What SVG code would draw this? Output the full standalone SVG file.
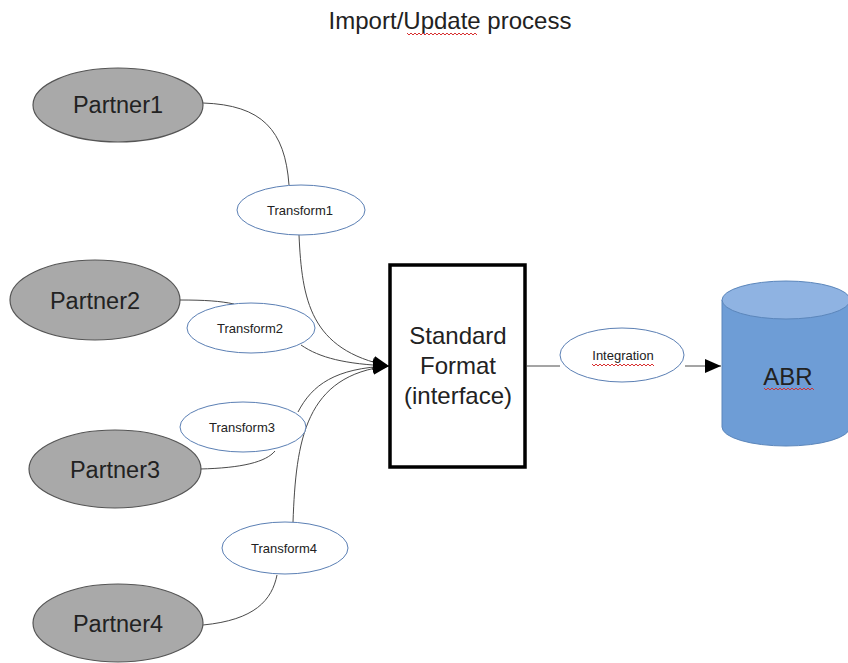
<svg xmlns="http://www.w3.org/2000/svg" width="848" height="663" viewBox="0 0 848 663">
  <style>
    text { font-family: "Liberation Sans", Arial, sans-serif; fill: #222; }
    .partner ellipse { fill: #a9a9a9; stroke: #555; stroke-width: 1.2; }
    .partner text { font-size: 23.5px; text-anchor: middle; }
    .xf ellipse { fill: #fff; stroke: #5b7fb4; stroke-width: 1; }
    .xf text { font-size: 13px; text-anchor: middle; }
    .conn path { fill: none; stroke: #4a4a4a; stroke-width: 1; }
    .big { font-size: 24px; text-anchor: middle; }
    .squiggle { fill: none; stroke: #d83030; stroke-width: 1; }
  </style>
  <defs>
    <marker id="arrow" viewBox="0 0 16 14" refX="16" refY="7" markerWidth="16" markerHeight="14" markerUnits="userSpaceOnUse" orient="auto">
      <path d="M0,0 L16,7 L0,14 Z" fill="#000"/>
    </marker>
  </defs>

  <rect x="0" y="0" width="848" height="663" fill="#fff"/>

  <!-- title -->
  <text x="450" y="29" style="font-size:24px" text-anchor="middle">Import/Update process</text>
  <path class="squiggle" d="M407,33 l2,2 l2,-2 l2,2 l2,-2 l2,2 l2,-2 l2,2 l2,-2 l2,2 l2,-2 l2,2 l2,-2 l2,2 l2,-2 l2,2 l2,-2 l2,2 l2,-2 l2,2 l2,-2 l2,2 l2,-2 l2,2 l2,-2 l2,2 l2,-2 l2,2 l2,-2 l2,2 l2,-2 l2,2 l2,-2 l2,2 l2,-2 l2,2"/>

  <!-- connectors -->
  <g id="connectors" class="conn">
    <path d="M203,103 C262,105 285,130 289,185"/>
    <path d="M299,235 C302,300 310,350 389,366" marker-end="url(#arrow)"/>
    <path d="M180,300 C205,300 220,301 234,304"/>
    <path d="M301,345 C320,358 345,364 389,366" marker-end="url(#arrow)"/>
    <path d="M298,412 C312,385 335,368 389,366" marker-end="url(#arrow)"/>
    <path d="M200,469 C242,468 266,462 275,451"/>
    <path d="M293,522 C296,440 305,375 389,366" marker-end="url(#arrow)"/>
    <path d="M203,625 C255,620 272,600 277,575"/>
    <path d="M527,366 L560,366"/>
    <path d="M685,366 L721,366" marker-end="url(#arrow)"/>
  </g>

  <!-- partners -->
  <g id="partner1" class="partner">
    <ellipse cx="118" cy="105" rx="85" ry="37"/>
    <text x="118" y="113">Partner1</text>
  </g>
  <g id="partner2" class="partner">
    <ellipse cx="95" cy="300" rx="85" ry="40"/>
    <text x="95" y="309">Partner2</text>
  </g>
  <g id="partner3" class="partner">
    <ellipse cx="115" cy="469" rx="86" ry="39"/>
    <text x="115" y="478">Partner3</text>
  </g>
  <g id="partner4" class="partner">
    <ellipse cx="118" cy="623" rx="85" ry="39"/>
    <text x="118" y="632">Partner4</text>
  </g>

  <!-- transforms -->
  <g id="transform1" class="xf">
    <ellipse cx="301" cy="210" rx="64" ry="25"/>
    <text x="300" y="215">Transform1</text>
  </g>
  <g id="transform2" class="xf">
    <ellipse cx="251" cy="328" rx="64" ry="25"/>
    <text x="250" y="333">Transform2</text>
  </g>
  <g id="transform3" class="xf">
    <ellipse cx="243" cy="427" rx="63" ry="25"/>
    <text x="242" y="432">Transform3</text>
  </g>
  <g id="transform4" class="xf">
    <ellipse cx="285" cy="548" rx="63" ry="26"/>
    <text x="284" y="553">Transform4</text>
  </g>

  <!-- standard format -->
  <g id="standard">
    <rect x="390" y="265" width="135" height="202" fill="#fff" stroke="#000" stroke-width="3.5"/>
    <text class="big" x="458" y="344">Standard</text>
    <text class="big" x="458" y="374">Format</text>
    <text class="big" x="458" y="404">(interface)</text>
  </g>

  <!-- integration -->
  <g id="integration" class="xf">
    <ellipse cx="622" cy="355" rx="62" ry="27"/>
    <text x="623" y="360">Integration</text>
    <path class="squiggle" d="M592,364 l2,2 l2,-2 l2,2 l2,-2 l2,2 l2,-2 l2,2 l2,-2 l2,2 l2,-2 l2,2 l2,-2 l2,2 l2,-2 l2,2 l2,-2 l2,2 l2,-2 l2,2 l2,-2 l2,2 l2,-2 l2,2 l2,-2 l2,2 l2,-2 l2,2 l2,-2 l2,2 l2,-2 l2,2"/>
  </g>

  <!-- ABR database -->
  <g id="abr">
    <path d="M722,300 L722,427 A64,19 0 0 0 850,427 L850,300 Z" fill="#6e9dd6" stroke="#5b86bb" stroke-width="1"/>
    <ellipse cx="786" cy="300" rx="64" ry="19" fill="#8fb3e2" stroke="#5b86bb" stroke-width="1"/>
    <text class="big" x="788" y="385">ABR</text>
    <path class="squiggle" d="M764,388 l2,2 l2,-2 l2,2 l2,-2 l2,2 l2,-2 l2,2 l2,-2 l2,2 l2,-2 l2,2 l2,-2 l2,2 l2,-2 l2,2 l2,-2 l2,2 l2,-2 l2,2 l2,-2 l2,2 l2,-2 l2,2 l2,-2 l2,2"/>
  </g>
</svg>
